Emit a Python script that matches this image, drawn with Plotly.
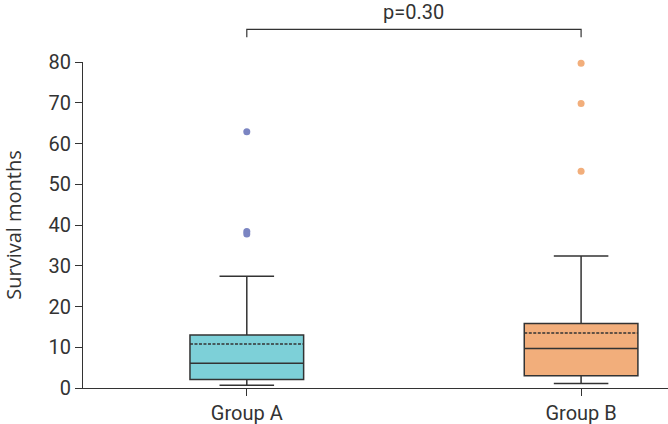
import plotly.graph_objects as go

# values (survival in months)
groups = ["Group A", "Group B"]
q1 = [2.1, 3.0]
medians = [6.1, 9.7]
q3 = [13.0, 15.8]
means = [10.8, 13.5]
lower_whisker = [0.7, 1.1]
upper_whisker = [27.4, 32.4]
outliers_a = [62.9, 38.4, 37.8]
outliers_b = [79.7, 69.8, 53.2]
p_text = "p=0.30"

box_fill = ["#7dd0d8", "#f2ae7b"]
dot_col = ["#7b85c2", "#f2ae7b"]
line_col = "#333333"

fig = go.Figure()

for i, g in enumerate(groups):
    fig.add_trace(go.Box(
        x=[i],
        q1=[q1[i]], median=[medians[i]], q3=[q3[i]],
        mean=[means[i]],
        lowerfence=[lower_whisker[i]], upperfence=[upper_whisker[i]],
        boxmean=True,
        width=0.34,
        whiskerwidth=0.48,
        fillcolor=box_fill[i],
        line=dict(color=line_col, width=1.5),
        boxpoints=False,
        showlegend=False,
        hoverinfo="skip",
    ))

for i, pts in enumerate([outliers_a, outliers_b]):
    fig.add_trace(go.Scatter(
        x=[i] * len(pts), y=pts,
        mode="markers",
        marker=dict(color=dot_col[i], size=7),
        cliponaxis=False,
        showlegend=False,
    ))

# significance bracket between the two groups
fig.add_shape(type="path", xref="x", yref="paper",
              path="M 0,1.076 L 0,1.1 L 1,1.1 L 1,1.076",
              line=dict(color=line_col, width=1.2))
fig.add_annotation(x=0.5, xref="x", y=1.11, yref="paper", text=p_text,
                   showarrow=False, yanchor="bottom",
                   font=dict(family="Roboto", size=20, color="#333333"))

fig.update_layout(
    width=668, height=424,
    margin=dict(l=83, r=0, t=62, b=36),
    plot_bgcolor="white", paper_bgcolor="white",
    font=dict(family="Roboto", size=20, color="#333333"),
    xaxis=dict(
        range=[-0.49, 1.26],
        tickvals=[0, 1], ticktext=groups,
        showline=True, linecolor=line_col, linewidth=1.2,
        ticks="outside", ticklen=7, tickcolor=line_col, tickwidth=1.2,
        showgrid=False, zeroline=False,
        tickfont=dict(family="Roboto", size=20, color="#333333"),
        automargin=False,
    ),
    yaxis=dict(
        range=[0, 80],
        tickvals=[0, 10, 20, 30, 40, 50, 60, 70, 80],
        showline=True, linecolor=line_col, linewidth=1.2,
        ticks="outside", ticklen=7, tickcolor=line_col, tickwidth=1.2,
        showgrid=False, zeroline=False,
        tickfont=dict(size=20),
        automargin=False,
        title=dict(text="Survival months", standoff=28,
                   font=dict(family="Open Sans", size=20, color="#333333")),
    ),
)

fig.write_html("out.html", config={"displayModeBar": False},
               post_script="document.body.style.margin='0';")
